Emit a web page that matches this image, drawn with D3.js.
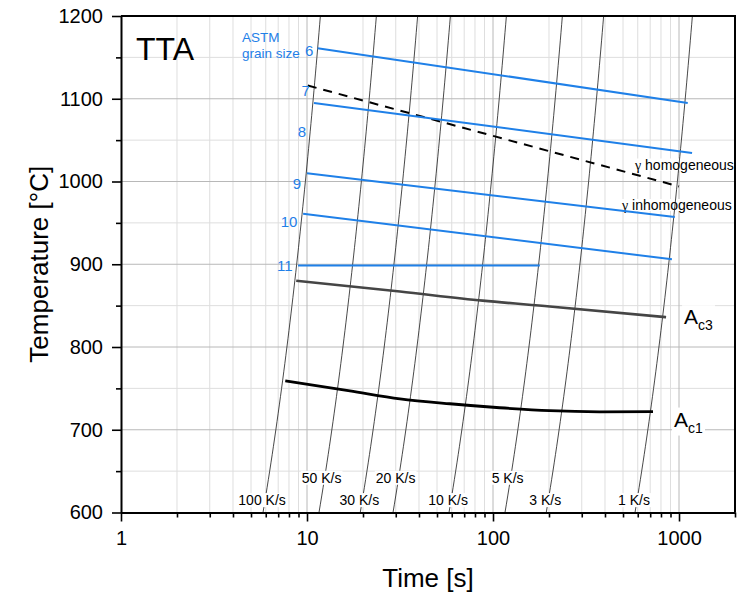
<!DOCTYPE html>
<html><head><meta charset="utf-8">
<script src="https://cdn.jsdelivr.net/npm/d3@7"></script>
<style>body{margin:0;background:#fff}svg{display:block;font-family:Arial,"Liberation Sans",sans-serif}</style>
</head><body><svg id="c" width="742" height="593"></svg>
<script>
// ---------- data ----------
const heatingRates = [100, 50, 30, 20, 10, 5, 3, 1];          // K/s
const heatingLabelTemp = [615, 642, 615, 642, 615, 642, 615, 615];
const heatingStartTemp = 20;
const grainSizes = ["6", "7", "8", "9", "10", "11"];
const grainStartTime = [11.4, 10.1, 10.9, 10.0, 9.53, 8.95];
const grainStartTemp = [1161, 1116, 1095, 1010, 961, 898.5];
const grainEndTime = [1114, 1000, 1175, 949, 916, 178.6];
const grainEndTemp = [1095, 994, 1034.5, 957, 906, 898.5];
const grainLabelTemp = [1158, 1110, 1060, 998, 952, 899];
const ac3Time = [8.75, 31.6, 88, 202, 852];
const ac3Temp = [880, 867, 856, 849, 836];
const ac1Time = [7.64, 17, 31.6, 58.6, 108.7, 201.5, 373.6, 725];
const ac1Temp = [759, 747, 737.4, 731.4, 726.6, 723, 721.7, 722];
const xTicks = [1, 10, 100, 1000];
const yTicks = [600, 700, 800, 900, 1000, 1100, 1200];
const yMinorTicks = [650, 750, 850, 950, 1050, 1150];

// ---------- layout ----------
const svg = d3.select("#c");
const L = 121, R = 735, T = 16, B = 512.5;
const x = d3.scaleLog().domain([1, 2000]).range([L, R]);
const y = d3.scaleLinear().domain([600, 1200]).range([B, T]);
const blue = "#1f80e8";

svg.append("defs").append("clipPath").attr("id", "clip")
  .append("rect").attr("x", L).attr("y", T).attr("width", R - L).attr("height", B - T);

const xMinor = [];
[1, 10, 100, 1000].forEach(d => { for (let k = 2; k <= 9; k++) if (d * k <= 2000) xMinor.push(d * k); });

// grid
const grid = svg.append("g").attr("clip-path", "url(#clip)");
grid.selectAll(".gxm").data(xMinor).join("line")
  .attr("x1", d => x(d)).attr("x2", d => x(d)).attr("y1", T).attr("y2", B)
  .attr("stroke", "#dedede").attr("stroke-width", 1);
grid.selectAll(".gym").data(yMinorTicks).join("line")
  .attr("y1", d => y(d)).attr("y2", d => y(d)).attr("x1", L).attr("x2", R)
  .attr("stroke", "#dedede").attr("stroke-width", 1);
grid.selectAll(".gx").data(xTicks).join("line")
  .attr("x1", d => x(d)).attr("x2", d => x(d)).attr("y1", T).attr("y2", B)
  .attr("stroke", "#b8b8b8").attr("stroke-width", 1);
grid.selectAll(".gy").data(yTicks).join("line")
  .attr("y1", d => y(d)).attr("y2", d => y(d)).attr("x1", L).attr("x2", R)
  .attr("stroke", "#b8b8b8").attr("stroke-width", 1);

// helper: text with white background
function bgText(g, tx, ty, str, size, anchor, fam) {
  const grp = g.append("g");
  const rect = grp.append("rect").attr("fill", "#fff");
  const t = grp.append("text").attr("x", tx).attr("y", ty)
    .attr("font-size", size).attr("text-anchor", anchor || "start")
    .attr("dominant-baseline", "central").text(str);
  if (fam) t.attr("font-family", fam);
  const bb = t.node().getBBox();
  rect.attr("x", bb.x - 1).attr("y", bb.y + 1).attr("width", bb.width + 2).attr("height", bb.height - 2);
  return t;
}

// gamma label backgrounds + text
const gammaG = svg.append("g");
function gammaLabel(tx, ty, word) {
  const grp = gammaG.append("g");
  const rect = grp.append("rect").attr("fill", "#fff");
  const t = grp.append("text").attr("x", tx).attr("y", ty).attr("font-size", 14)
    .attr("dominant-baseline", "central");
  t.append("tspan").attr("font-family", "'Liberation Serif','DejaVu Serif',serif").text("γ");
  t.append("tspan").text(" " + word);
  const bb = t.node().getBBox();
  rect.attr("x", bb.x).attr("y", bb.y + 2).attr("width", bb.width).attr("height", bb.height - 4);
}
gammaLabel(635, 164.5, "homogeneous");
gammaLabel(622, 205, "inhomogeneous");

// heating-rate lines
const hg = svg.append("g").attr("clip-path", "url(#clip)");
const tempSamples = d3.range(560, 1241, 10);
const hLine = d3.line().x(d => d[0]).y(d => d[1]);
heatingRates.forEach(r => {
  const pts = tempSamples.map(Tm => [x((Tm - heatingStartTemp) / r), y(Tm)]);
  hg.append("path").attr("d", hLine(pts)).attr("fill", "none")
    .attr("stroke", "#1a1a1a").attr("stroke-width", 0.8);
});
// heating-rate labels
const hl = svg.append("g");
heatingRates.forEach((r, i) => {
  const Tm = heatingLabelTemp[i];
  bgText(hl, x((Tm - heatingStartTemp) / r) - 3, y(Tm), r + " K/s", 14, "middle");
});

// grain-size lines
const dg = svg.append("g").attr("clip-path", "url(#clip)");
grainSizes.forEach((g, i) => {
  const dashed = g === "7";
  dg.append("line")
    .attr("x1", x(grainStartTime[i])).attr("y1", y(grainStartTemp[i]))
    .attr("x2", x(grainEndTime[i])).attr("y2", y(grainEndTemp[i]))
    .attr("stroke", dashed ? "#000" : blue).attr("stroke-width", 2)
    .attr("stroke-dasharray", dashed ? "9,7" : null);
});
// Ac3, Ac1
const curve = d3.line().x(d => x(d[0])).y(d => y(d[1])).curve(d3.curveMonotoneX);
dg.append("path").attr("d", curve(ac3Time.map((t, i) => [t, ac3Temp[i]])))
  .attr("fill", "none").attr("stroke", "#454545").attr("stroke-width", 2.6);
dg.append("path").attr("d", curve(ac1Time.map((t, i) => [t, ac1Temp[i]])))
  .attr("fill", "none").attr("stroke", "#000").attr("stroke-width", 2.8);

// grain-size labels
const gl = svg.append("g").attr("fill", blue);
grainSizes.forEach((g, i) => {
  const Tm = grainLabelTemp[i];
  gl.append("text").attr("x", x((Tm - heatingStartTemp) / heatingRates[0]) - 4)
    .attr("y", y(Tm)).attr("text-anchor", "end").attr("dominant-baseline", "central")
    .attr("font-size", 15).attr("fill", blue).text(g);
});
gl.append("text").attr("x", 242).attr("y", 37).attr("font-size", 13.5).attr("dominant-baseline", "central").text("ASTM");
gl.append("text").attr("x", 242).attr("y", 53).attr("font-size", 13.5).attr("dominant-baseline", "central").text("grain size");

// TTA
svg.append("text").attr("x", 136).attr("y", 60).attr("font-size", 32).text("TTA");

// Ac labels
function acLabel(tx, ty, sub) {
  const grp = svg.append("g");
  const rect = grp.append("rect").attr("fill", "#fff");
  const t = grp.append("text").attr("x", tx).attr("y", ty).attr("font-size", 21);
  t.append("tspan").text("A");
  t.append("tspan").attr("font-size", 14).attr("dy", 6).text(sub);
  const bb = t.node().getBBox();
  rect.attr("x", bb.x - 2).attr("y", bb.y).attr("width", bb.width + 4).attr("height", bb.height);
}
const ac3End = [x(ac3Time[ac3Time.length - 1]), y(ac3Temp[ac3Temp.length - 1])];
const ac1End = [x(ac1Time[ac1Time.length - 1]), y(ac1Temp[ac1Temp.length - 1])];
acLabel(ac3End[0] + 18, ac3End[1] + 7, "c3");
acLabel(ac1End[0] + 21, ac1End[1] + 15, "c1");

// axes
const ax = svg.append("g").attr("transform", `translate(0,${B})`);
ax.call(d3.axisBottom(x).tickValues(xMinor).tickSize(5).tickSizeOuter(0).tickFormat(""));
ax.call(g => g.select(".domain").remove());
const ax2 = svg.append("g").attr("transform", `translate(0,${B})`)
  .call(d3.axisBottom(x).tickValues(xTicks).tickSize(9).tickSizeOuter(0).tickPadding(9).tickFormat(d3.format("d")));
const ay = svg.append("g").attr("transform", `translate(${L},0)`);
ay.call(d3.axisLeft(y).tickValues(yMinorTicks).tickSize(5).tickSizeOuter(0).tickFormat(""));
ay.call(g => g.select(".domain").remove());
const ay2 = svg.append("g").attr("transform", `translate(${L},0)`)
  .call(d3.axisLeft(y).tickValues(yTicks).tickSize(9).tickSizeOuter(0).tickPadding(9).tickFormat(d3.format("d")));
[ax, ax2, ay, ay2].forEach(g => {
  g.selectAll(".tick line").attr("stroke", "#000").attr("stroke-width", 1.6);
  g.selectAll(".domain").attr("stroke", "#000").attr("stroke-width", 2);
  g.selectAll("text").attr("font-size", 20).attr("fill", "#000")
    .attr("font-family", "Arial,'Liberation Sans',sans-serif");
});
// frame
svg.append("line").attr("x1", L).attr("x2", R + 1).attr("y1", T).attr("y2", T).attr("stroke", "#000").attr("stroke-width", 2);
svg.append("line").attr("x1", R).attr("x2", R).attr("y1", T).attr("y2", B).attr("stroke", "#000").attr("stroke-width", 2);

// axis titles
svg.append("text").attr("x", (L + R) / 2).attr("y", 587).attr("text-anchor", "middle")
  .attr("font-size", 26).text("Time [s]");
svg.append("text").attr("transform", `translate(48,${(T + B) / 2}) rotate(-90)`)
  .attr("text-anchor", "middle").attr("font-size", 26).text("Temperature [°C]");
</script></body></html>
